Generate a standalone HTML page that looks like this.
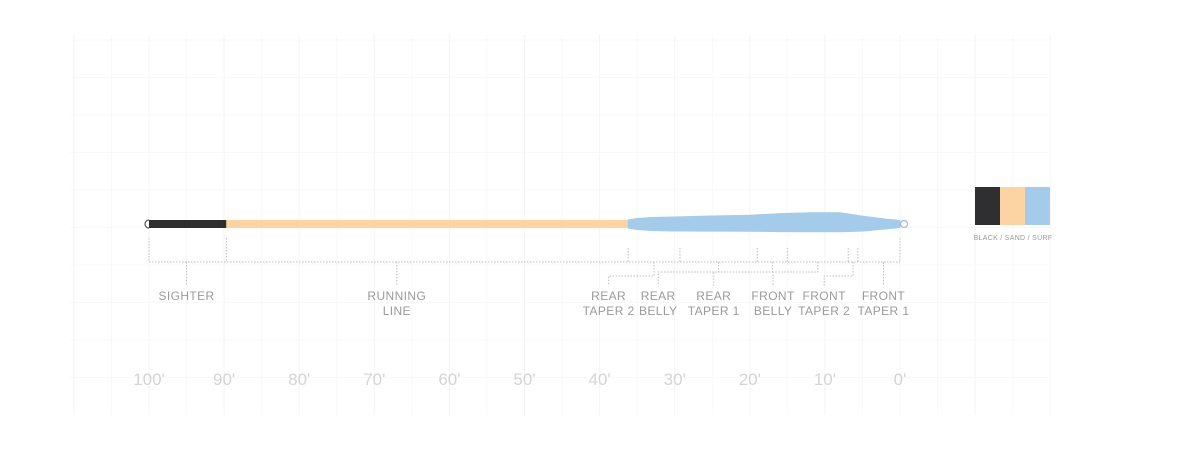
<!DOCTYPE html>
<html><head><meta charset="utf-8"><style>
html,body{margin:0;padding:0;background:#fff;}
svg{display:block;font-family:"Liberation Sans",sans-serif;}
</style></head><body>
<svg id="chart" width="1200" height="450" viewBox="0 0 1200 450"></svg>
<script>
const tickFeet = [100,90,80,70,60,50,40,30,20,10,0];
const tickLabels = ["100'","90'","80'","70'","60'","50'","40'","30'","20'","10'","0'"];
const sectionNames = [["SIGHTER"],["RUNNING","LINE"],["REAR","TAPER 2"],["REAR","BELLY"],["REAR","TAPER 1"],["FRONT","BELLY"],["FRONT","TAPER 2"],["FRONT","TAPER 1"]];
const sectionStart = [100,89.7,36.2,29.3,19,15,6.9,5.6];
const sectionEnd = [89.7,36.2,29.3,19,15,6.9,5.6,0];
const labelFeet = [95,67,38.8,32.2,24.8,16.9,10.1,2.2];
const headFeet = [36.2,35,33,30,26,20,16,12,8,5,2,0];
const headThick = [8,11,13,14,15,16,18,19,19,15,10,7];
const colorNames = ["BLACK","SAND","SURF"];
const colorValues = ["#2f2f31","#fcd3a2","#a5cbea"];

const NS="http://www.w3.org/2000/svg";
const chartSvg=document.getElementById('chart');
const xScale=f=>900-7.51*f;
function el(t,a,p){const e=document.createElementNS(NS,t);for(const k in a)e.setAttribute(k,a[k]);(p||chartSvg).appendChild(e);return e;}

const gridG=el('g',{});


for(let f=110;f>=-20;f-=5){const gx=xScale(f);if(gx<60||gx>1060)continue;const l=el('line',{x1:gx,y1:35,x2:gx,y2:415,stroke:f%10===0?'#f4f4f4':'#f9f9f9','stroke-width':1},gridG);}
for(let gy=40;gy<=410;gy+=37.5){const l=el('line',{x1:70,y1:gy,x2:1050,y2:gy,stroke:'#f8f8f8','stroke-width':1},gridG);}

const cy=224;
const sighterRect=el('rect',{x:xScale(100),y:cy-4,width:xScale(89.7)-xScale(100),height:8,fill:colorValues[0]});


const runRect=el('rect',{x:xScale(89.7),y:cy-4,width:xScale(36.2)-xScale(89.7)+4,height:8,fill:colorValues[1]});


const rearLoop=el('path',{d:`M${xScale(100)} ${cy-4} A4 4 0 0 0 ${xScale(100)} ${cy+4}`,fill:'#fff',stroke:'#555','stroke-width':1.2});


let topPath='',botPath='';
headFeet.forEach((f,i)=>{const h=headThick[i];const off=h>14?(h-14)*0.35:0;topPath+=(i?'L':'M')+xScale(f)+' '+(cy-h/2-off)+' ';});
for(let i=headFeet.length-1;i>=0;i--){const h=headThick[i];const off=h>14?(h-14)*0.35:0;botPath+='L'+xScale(headFeet[i])+' '+(cy+h/2-off)+' ';}
const headShape=el('path',{d:topPath+botPath+'Z',fill:colorValues[2],stroke:colorValues[2],'stroke-width':1,'stroke-linejoin':'round'});


const frontLoop=el('circle',{cx:xScale(0)+4,cy:cy,r:3.5,fill:'#fff',stroke:'#9bbcd8','stroke-width':1.2});



const bracketG=el('g',{stroke:'#bdbdbd','stroke-width':1,'stroke-dasharray':'1.5,1.5',fill:'none'});


const mainY=262;
el('line',{x1:xScale(100),y1:mainY,x2:xScale(0),y2:mainY},bracketG);
const bounds=[...sectionStart,0];
bounds.forEach((f,i)=>{const y1=(i<2||i===bounds.length-1)?238:248;el('line',{x1:xScale(f),y1:y1,x2:xScale(f),y2:mainY},bracketG);});
const midYs=[0,0,276,272,272,272,276,0];
sectionStart.forEach((st,i)=>{
  const mx=xScale((st+sectionEnd[i])/2),lx=xScale(labelFeet[i]);
  if(i<2||i===7){el('line',{x1:lx,y1:mainY,x2:lx,y2:285},bracketG);}
  else{el('path',{d:`M${mx} ${mainY}V${midYs[i]}H${lx}V286`},bracketG);}
  const t=el('text',{x:lx,y:300,'text-anchor':'middle','font-size':12,fill:'#9a9a9a','letter-spacing':'0.4'});
  
  
  sectionNames[i].forEach((w,j)=>{const ts=el('tspan',{x:lx,dy:j?15:0},t);ts.textContent=w;});
});

tickFeet.forEach((f,i)=>{const t=el('text',{x:xScale(f),y:385,'text-anchor':'middle','font-size':17,fill:'#d4d4d4'});t.textContent=tickLabels[i];

});

const legendG=el('g',{});


colorValues.forEach((c,i)=>{const sw=el('rect',{x:975+i*25,y:187,width:25,height:38,fill:c},legendG);

});
const legendText=el('text',{x:1013,y:240,'text-anchor':'middle','font-size':7,fill:'#999','letter-spacing':'0.3'},legendG);
legendText.textContent=colorNames.join(' / ');


</script>
</body></html>
